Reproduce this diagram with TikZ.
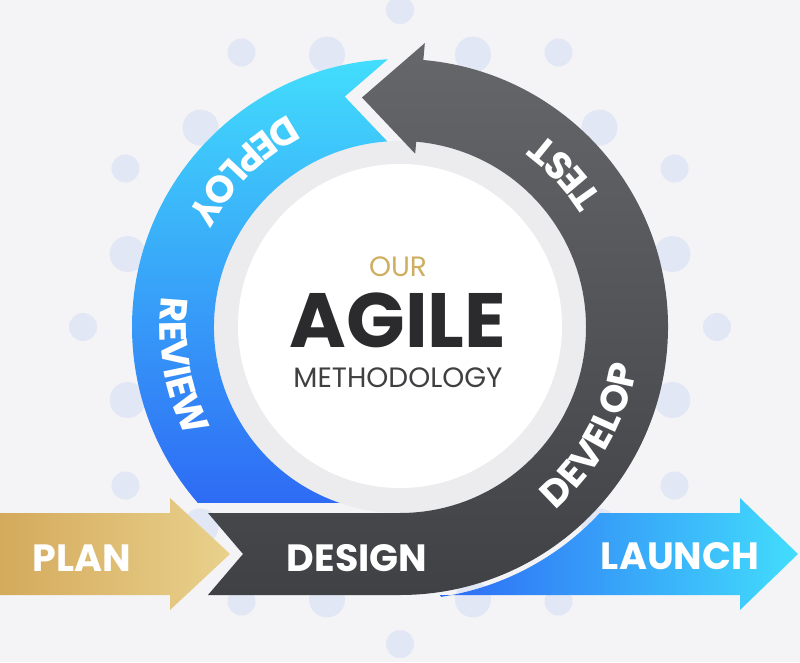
\documentclass[tikz,border=0pt]{standalone}
\usepackage{fontspec}
\setmainfont{Poppins}
\usetikzlibrary{decorations.text}
\definecolor{bgcol}{HTML}{F4F4F6}
\definecolor{bgdot}{HTML}{E1E7F5}
\definecolor{goldl}{HTML}{D4AA5C}
\definecolor{goldr}{HTML}{E9D18C}
\definecolor{bluel}{HTML}{2E6BF5}
\definecolor{bluer}{HTML}{42DDFC}
\definecolor{darktop}{HTML}{65676B}
\definecolor{darkbot}{HTML}{3F4145}
\definecolor{ringgray}{HTML}{ECECEE}
\definecolor{ourgold}{HTML}{CFAE62}
\definecolor{agileink}{HTML}{2B2B2E}
\newcommand\stagefont{\fontsize{38}{38}\selectfont\bfseries}
\newcommand\arcfont{\fontsize{38}{38}\selectfont\bfseries\color{white}}

\begin{document}
\begin{tikzpicture}[x=1pt,y=1pt,
  stage/.style={text=white,font=\stagefont,inner sep=0pt},
  arc label/.style={decorate,decoration={text along path,text align=center,text={|\arcfont|#1}}},
  dotfill/.style={fill=bgdot}]
\fill[bgcol] (0,0) rectangle (800,662);
\useasboundingbox (0,0) rectangle (800,662);
\begin{scope}[shift={(400,335)}]
% background dots
\foreach \a in {0,30,...,330}
  \fill[dotfill] (\a:317) circle[radius=14pt];
\foreach \a in {15,45,...,345}
  \fill[dotfill] (\a:282) circle[radius=18pt];
% plan and launch arrows
\shade[left color=goldl,right color=goldr] (-400,-186) -- (-230,-186) -- (-230,-171) -- (-170,-227) -- (-230,-283) -- (-230,-268) -- (-400,-268) -- cycle;
\shade[left color=bluel,right color=bluer] (40.6,-268) -- (340,-268) -- (340,-283) -- (398,-227) -- (340,-171) -- (340,-186) -- (199.8,-186) arc[start angle=-42.95,end angle=-81.39,radius=273pt] -- cycle;
% inner ring
\fill[ringgray] (0,0) circle[radius=186pt];
% blue arc
\shade[top color=bluer,bottom color=bluel] (92.6:268) arc[start angle=92.6,end angle=221,radius=268pt] -- (251.1:186) arc[start angle=251.1,end angle=93.9,radius=186pt] -- (-55.3,230.4) -- cycle;
% dark arc with head
\shade[top color=darktop,bottom color=darkbot] (-192,-186) -- (0,-186) arc[start angle=-90,end angle=85,radius=186pt] -- (85:174) -- (-38,229.5) -- (85:285) -- (85:268) arc[start angle=85,end angle=-90,radius=268pt] -- (-192,-268) -- (-157,-227) -- cycle;
% white centre
\fill[white] (0,1) circle[radius=162pt];
% labels on the ring
\path[arc label=DEPLOY] (95:240) arc[start angle=95,end angle=175,radius=240pt];
\path[arc label=REVIEW] (150:240) arc[start angle=150,end angle=230,radius=240pt];
\path[arc label=TEST] (3:240) arc[start angle=3,end angle=83,radius=240pt];
\path[arc label=DEVELOP] (-70:240) arc[start angle=-70,end angle=11,radius=240pt];
\end{scope}
\node[stage] (plan) at (82,104) {PLAN};
\node[stage] (design) at (357,104) {DESIGN};
\node[stage] (launch) at (680,106) {LAUNCH};
\node[text=ourgold,font=\fontsize{28}{28}\selectfont,inner sep=0pt] (our) at (398,395) {OUR};
\node[text=agileink,font=\fontsize{77}{77}\selectfont\bfseries,inner sep=0pt] (agile) at (398,342) {AGILE};
\node[text=agileink!90,font=\fontsize{28}{28}\selectfont,inner sep=0pt] (method) at (398,284) {METHODOLOGY};
\end{tikzpicture}
\end{document}
